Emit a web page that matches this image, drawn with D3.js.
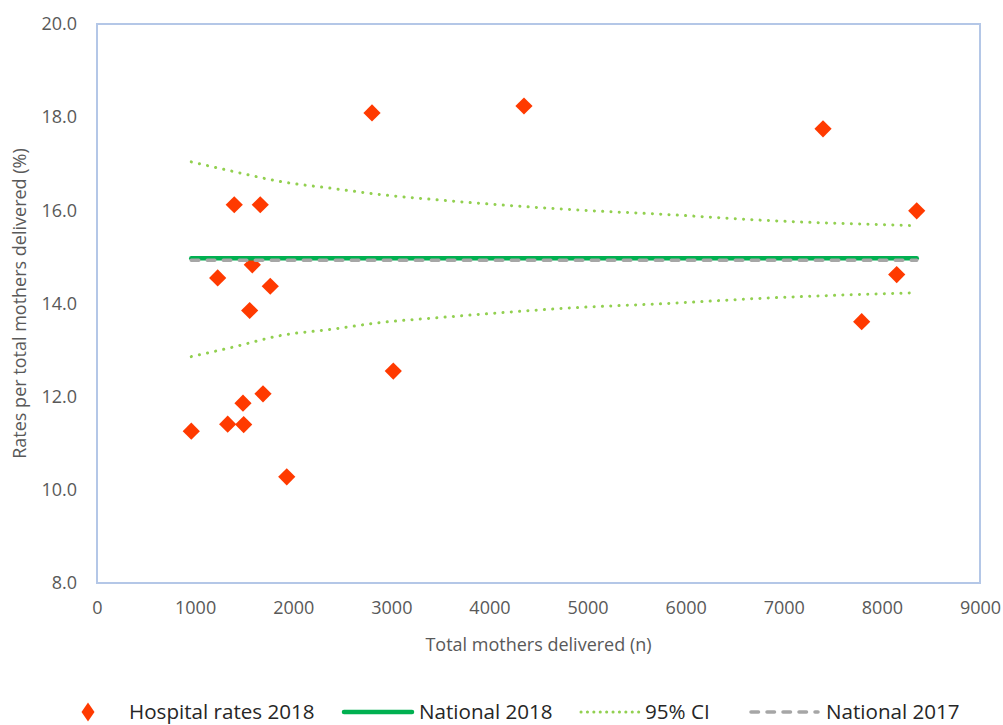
<!DOCTYPE html>
<html>
<head>
<meta charset="utf-8">
<script src="https://cdn.jsdelivr.net/npm/d3@7"></script>
<style>
  body { margin: 0; background: #fff; }
  svg { display: block; font-family: 'Open Sans', sans-serif; }
</style>
</head>
<body>
<svg id="chart"></svg>
<script>
const d3 = window.d3

// hospital rates 2018
const hospitalN = [961, 1230, 1332, 1399, 1488, 1495, 1556, 1583, 1664, 1692, 1766, 1934, 2803, 3020, 4352, 7400, 7794, 8151, 8355]
const hospitalRate = [11.26, 14.55, 11.41, 16.12, 11.86, 11.40, 13.85, 14.83, 16.12, 12.06, 14.37, 10.28, 18.09, 12.55, 18.24, 17.75, 13.61, 14.62, 15.99]

// national lines (span the hospital range)
const nationalN = [961, 8355]
const national2018 = [14.97, 14.97]
const national2017 = [14.93, 14.93]

// 95% CI bounds
const ciN = [961, 1399, 1865, 2400, 2885, 3500, 4873, 5810, 6758, 8355]
const ciUpper = [17.04, 16.83, 16.62, 16.47, 16.34, 16.22, 16.01, 15.91, 15.79, 15.67]
const ciLower = [12.86, 13.07, 13.31, 13.45, 13.59, 13.70, 13.91, 14.00, 14.11, 14.23]

const xTicks = [0, 1000, 2000, 3000, 4000, 5000, 6000, 7000, 8000, 9000]
const yTicks = [8, 10, 12, 14, 16, 18, 20]

const legendLabels = ['Hospital rates 2018', 'National 2018', '95% CI', 'National 2017']

const width = 1003
const height = 725
const margin = {top: 24, right: 23, bottom: 142, left: 97}

const colors = {
  point: '#FF3A00',
  nat2018: '#00B050',
  ci: '#92D050',
  nat2017: '#A6A6A6',
  frame: '#B4C7E7',
  tick: '#595959'
}

const svg = d3.select('#chart').attr('width', width).attr('height', height)

const x = d3.scaleLinear().domain([0, 9000]).range([margin.left, width - margin.right])
const y = d3.scaleLinear().domain([8, 20]).range([height - margin.bottom, margin.top])

// plot frame
svg.append('rect')
  .attr('x', x(0)).attr('y', y(20))
  .attr('width', x(9000) - x(0)).attr('height', y(8) - y(20))
  .attr('fill', 'none').attr('stroke', colors.frame).attr('stroke-width', 2)

// axes, no tick marks, just the labels
const xAxis = d3.axisBottom(x).tickValues(xTicks).tickSize(0).tickPadding(18).tickFormat(d3.format('d'))
svg.append('g')
  .attr('transform', `translate(0,${y(8)})`)
  .call(xAxis)
  .call(g => g.select('.domain').remove())
  .selectAll('text')
  .attr('font-size', 18).attr('fill', colors.tick).attr('font-family', 'Open Sans')

const yAxis = d3.axisLeft(y).tickValues(yTicks).tickSize(0).tickPadding(20).tickFormat(d3.format('.1f'))
svg.append('g')
  .attr('transform', `translate(${x(0)},0)`)
  .call(yAxis)
  .call(g => g.select('.domain').remove())
  .selectAll('text')
  .attr('font-size', 18).attr('fill', colors.tick).attr('font-family', 'Open Sans')

// axis titles
svg.append('text')
  .attr('x', (x(0) + x(9000)) / 2).attr('y', 651)
  .attr('text-anchor', 'middle').attr('font-size', 18).attr('fill', colors.tick)
  .text('Total mothers delivered (n)')

svg.append('text')
  .attr('transform', `translate(26,${(y(8) + y(20)) / 2}) rotate(-90)`)
  .attr('text-anchor', 'middle').attr('font-size', 18).attr('fill', colors.tick)
  .text('Rates per total mothers delivered (%)')

const line = d3.line().x(d => x(d[0])).y(d => y(d[1]))
const smooth = d3.line().x(d => x(d[0])).y(d => y(d[1])).curve(d3.curveMonotoneX)

// diamond marker, rotated square
const diamond = d3.symbol().type(d3.symbolSquare).size(148)

svg.append('g')
  .selectAll('path')
  .data(hospitalN.map((n, i) => [n, hospitalRate[i]]))
  .join('path')
  .attr('d', diamond)
  .attr('transform', d => `translate(${x(d[0])},${y(d[1])}) rotate(45)`)
  .attr('fill', colors.point)

svg.append('path')
  .datum(nationalN.map((n, i) => [n, national2018[i]]))
  .attr('d', line)
  .attr('fill', 'none').attr('stroke', colors.nat2018)
  .attr('stroke-width', 4.5).attr('stroke-linecap', 'round')

const ciStyle = sel => sel
  .attr('fill', 'none').attr('stroke', colors.ci)
  .attr('stroke-width', 3).attr('stroke-linecap', 'round')
  .attr('stroke-dasharray', '0.1 8.2')

svg.append('path')
  .datum(ciN.map((n, i) => [n, ciUpper[i]]))
  .attr('d', smooth).call(ciStyle)

svg.append('path')
  .datum(ciN.map((n, i) => [n, ciLower[i]]))
  .attr('d', smooth).call(ciStyle)

svg.append('path')
  .datum(nationalN.map((n, i) => [n, national2017[i]]))
  .attr('d', line)
  .attr('fill', 'none').attr('stroke', colors.nat2017)
  .attr('stroke-width', 3.5).attr('stroke-linecap', 'round')
  .attr('stroke-dasharray', '7.5 8.5')

// legend
const legendY = 712
const legend = svg.append('g').attr('font-size', 20.6).attr('fill', '#262626')

legend.append('path')
  .attr('d', 'M0,-9.5L6.5,0L0,9.5L-6.5,0Z')
  .attr('transform', `translate(88,${legendY})`)
  .attr('fill', colors.point)
legend.append('text').attr('x', 129).attr('y', legendY).attr('dy', '0.35em').text(legendLabels[0])

legend.append('line')
  .attr('x1', 344).attr('x2', 412).attr('y1', legendY).attr('y2', legendY)
  .attr('stroke', colors.nat2018).attr('stroke-width', 4.5).attr('stroke-linecap', 'round')
legend.append('text').attr('x', 419).attr('y', legendY).attr('dy', '0.35em').text(legendLabels[1])

legend.append('line')
  .attr('x1', 581).attr('x2', 640).attr('y1', legendY).attr('y2', legendY)
  .attr('stroke', colors.ci).attr('stroke-width', 3).attr('stroke-linecap', 'round')
  .attr('stroke-dasharray', '0.1 6.3')
legend.append('text').attr('x', 645).attr('y', legendY).attr('dy', '0.35em').text(legendLabels[2])

legend.append('line')
  .attr('x1', 751).attr('x2', 818).attr('y1', legendY).attr('y2', legendY)
  .attr('stroke', colors.nat2017).attr('stroke-width', 3.5).attr('stroke-linecap', 'round')
  .attr('stroke-dasharray', '7.5 8.5')
legend.append('text').attr('x', 826).attr('y', legendY).attr('dy', '0.35em').text(legendLabels[3])
</script>
</body>
</html>
